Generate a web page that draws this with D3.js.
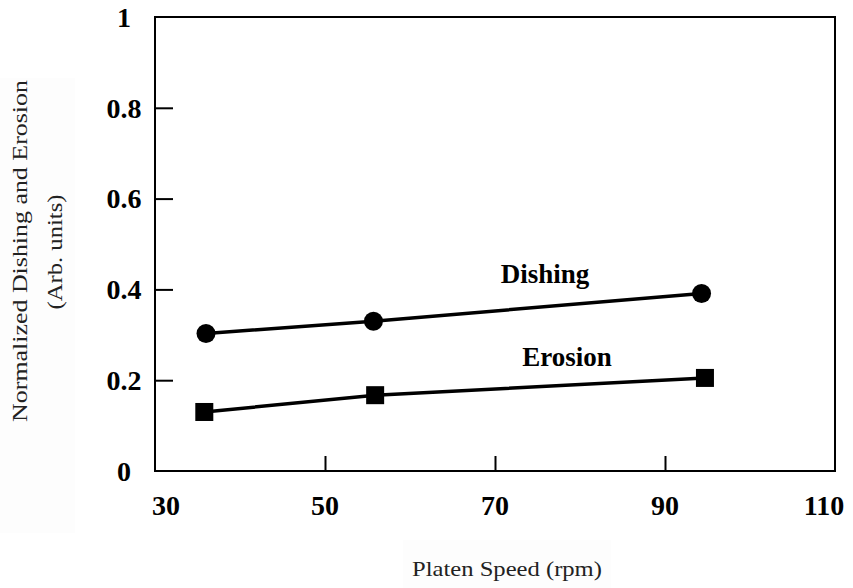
<!DOCTYPE html>
<html>
<head>
<meta charset="utf-8">
<script src="https://cdn.jsdelivr.net/npm/d3@7"></script>
<style>
  body { margin: 0; background: #fff; }
  text { font-family: "Liberation Serif", "Times New Roman", Times, serif; }
</style>
</head>
<body>
<div id="chart"></div>
<script>
// データ
const speeds = [36, 55.7, 94.3];
const dishing = [0.303, 0.330, 0.391];
const erosionSpeeds = [35.8, 55.9, 94.7];
const erosion = [0.130, 0.167, 0.205];
const xTicks = [30, 50, 70, 90, 110];
const yTicks = [0, 0.2, 0.4, 0.6, 0.8, 1];
const yTickLabels = ["0", "0.2", "0.4", "0.6", "0.8", "1"];

const width = 853;
const height = 588;
const svg = d3.select("#chart").append("svg")
    .attr("width", width)
    .attr("height", height);

const x = d3.scaleLinear().domain([30, 110]).range([155, 835]);
const y = d3.scaleLinear().domain([0, 1]).range([471, 17]);

// 軸タイトルの薄い背景
svg.append("rect").attr("x", 0).attr("y", 78).attr("width", 75).attr("height", 455).attr("fill", "#fdfdfd");
svg.append("rect").attr("x", 403).attr("y", 540).attr("width", 208).attr("height", 48).attr("fill", "#fdfdfd");

// 枠
svg.append("rect")
    .attr("x", 155).attr("y", 17)
    .attr("width", 680).attr("height", 454)
    .attr("fill", "none").attr("stroke", "black").attr("stroke-width", 2);

// 目盛（内向き）
svg.append("g")
    .attr("transform", "translate(155,0)")
    .call(d3.axisRight(y).tickValues(yTicks.slice(1, -1)).tickSize(18).tickFormat(""))
    .call(g => g.select(".domain").remove())
    .selectAll("line").attr("stroke-width", 2);

svg.append("g")
    .attr("transform", "translate(0,471)")
    .call(d3.axisTop(x).tickValues(xTicks.slice(1, -1)).tickSize(15).tickFormat(""))
    .call(g => g.select(".domain").remove())
    .selectAll("line").attr("stroke-width", 2);

// 目盛ラベル
svg.selectAll(".ylab")
    .data(yTicks)
    .enter().append("text")
    .attr("x", 124)
    .attr("y", d => y(d))
    .attr("dy", "0.35em")
    .attr("text-anchor", "middle")
    .attr("font-size", "28px")
    .attr("font-weight", "bold")
    .text((d, i) => yTickLabels[i]);

svg.selectAll(".xlab")
    .data(xTicks)
    .enter().append("text")
    .attr("x", d => x(d) + (d === 30 ? 11 : d === 110 ? -11 : 0))
    .attr("y", 515)
    .attr("text-anchor", "middle")
    .attr("font-size", "28px")
    .attr("font-weight", "bold")
    .text(d => d);

// 線
const line = d3.line().x(d => x(d[0])).y(d => y(d[1]));
const dPts = speeds.map((s, i) => [s, dishing[i]]);
const ePts = erosionSpeeds.map((s, i) => [s, erosion[i]]);

svg.append("path").attr("d", line(dPts))
    .attr("fill", "none").attr("stroke", "black").attr("stroke-width", 3.5);
svg.append("path").attr("d", line(ePts))
    .attr("fill", "none").attr("stroke", "black").attr("stroke-width", 3.5);

svg.selectAll(".dot")
    .data(dPts)
    .enter().append("circle")
    .attr("cx", d => x(d[0]))
    .attr("cy", d => y(d[1]))
    .attr("r", 9.5)
    .attr("fill", "black");

svg.selectAll(".sq")
    .data(ePts)
    .enter().append("rect")
    .attr("x", d => x(d[0]) - 9)
    .attr("y", d => y(d[1]) - 9)
    .attr("width", 18).attr("height", 18)
    .attr("fill", "black");

// 系列ラベル
svg.append("text")
    .attr("x", 545).attr("y", 283)
    .attr("text-anchor", "middle")
    .attr("font-size", "27px").attr("font-weight", "bold")
    .text("Dishing");
svg.append("text")
    .attr("x", 567).attr("y", 366)
    .attr("text-anchor", "middle")
    .attr("font-size", "27px").attr("font-weight", "bold")
    .text("Erosion");

// 軸タイトル（横に引き伸ばされた文字）
function stretched(tx, ty, rot, size, target, label) {
    const t = svg.append("text")
        .attr("text-anchor", "middle")
        .attr("font-size", size + "px")
        .attr("fill", "#222")
        .text(label);
    const w = t.node().getComputedTextLength();
    t.attr("transform", `translate(${tx},${ty}) rotate(${rot}) scale(${target / w},1)`);
}
stretched(507, 576, 0, 22, 190, "Platen Speed (rpm)");
stretched(27, 251, -90, 21, 342, "Normalized Dishing and Erosion");
stretched(62, 252, -90, 21, 115, "(Arb. units)");
</script>
</body>
</html>
